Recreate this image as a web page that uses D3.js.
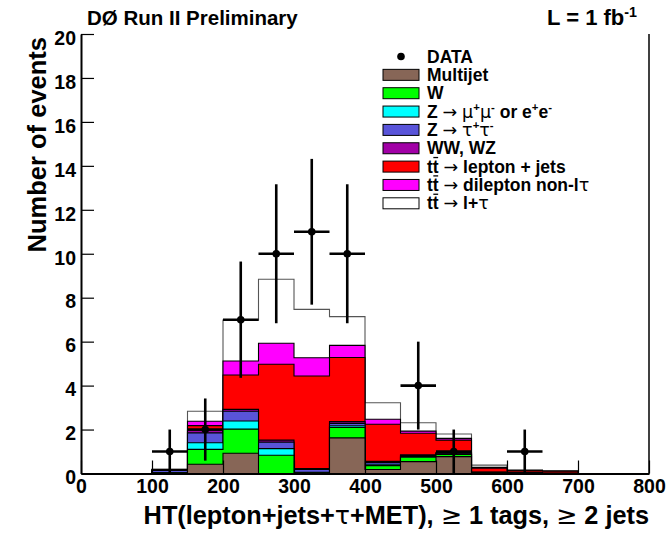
<!DOCTYPE html>
<html>
<head>
<meta charset="utf-8">
<script src="https://cdn.jsdelivr.net/npm/d3@7"></script>
<style>
  html, body { margin: 0; padding: 0; background: #fff; }
  svg { display: block; font-family: "Liberation Sans", Arial, Helvetica, sans-serif; font-weight: bold; }
</style>
</head>
<body>
<script>
// HT histogram, 50 GeV bins from 0 to 800
const binLow = [0, 50, 100, 150, 200, 250, 300, 350, 400, 450, 500, 550, 600, 650, 700, 750];
const binWidth = 50;

// Expected events per bin for each background / signal component
const multijet = [0, 0, 0,    0.42, 0.92, 0,    0,    1.62, 0.18, 0.54, 0.77, 0.02, 0,    0,    0, 0];
const wJets    = [0, 0, 0.03, 0.68, 1.10, 0.83, 0.03, 0.48, 0.18, 0.20, 0.10, 0.01, 0.01, 0,    0, 0];
const zLight   = [0, 0, 0.01, 0.30, 0.37, 0.30, 0.02, 0.07, 0.06, 0.04, 0.02, 0.01, 0,    0,    0, 0];
const zTauTau  = [0, 0, 0.10, 0.45, 0.44, 0.30, 0.13, 0.11, 0.08, 0.04, 0.03, 0.02, 0.02, 0.01, 0, 0];
const diboson  = [0, 0, 0.02, 0.12, 0.09, 0.09, 0.04, 0.08, 0.05, 0.03, 0.03, 0.01, 0.01, 0.01, 0, 0];
const ttLepJets= [0, 0, 0.01, 0.21, 1.56, 3.45, 4.22, 2.92, 1.69, 0.98, 0.57, 0.17, 0.08, 0.08, 0, 0];
const ttDilep  = [0, 0, 0.01, 0.20, 0.64, 0.96, 0.83, 0.55, 0.23, 0.10, 0.08, 0.04, 0.02, 0.01, 0, 0];
const ttLepTau = [0, 0, 0.02, 0.45, 1.86, 2.91, 2.20, 1.31, 0.75, 0.38, 0.20, 0.10, 0.02, 0.01, 0, 0];

// Observed events per bin
const dataCounts = [0, 0, 1, 2, 7, 10, 11, 10, 0, 4, 1, 0, 1, 0, 0, 0];

// Axis ticks
const xMajorTicks = [0, 100, 200, 300, 400, 500, 600, 700, 800];
const yMajorTicks = [0, 2, 4, 6, 8, 10, 12, 14, 16, 18, 20];

// Stack components, bottom to top
const components = [
  { key: "multijet",  values: multijet,  color: "#876657", line: "#000" },
  { key: "wJets",     values: wJets,     color: "#00ff00", line: "#000" },
  { key: "zLight",    values: zLight,    color: "#00ffff", line: "#000" },
  { key: "zTauTau",   values: zTauTau,   color: "#5954d9", line: "#000" },
  { key: "diboson",   values: diboson,   color: "#a100a6", line: "#000" },
  { key: "ttLepJets", values: ttLepJets, color: "#ff0000", line: "#000" },
  { key: "ttDilep",   values: ttDilep,   color: "#ff00ff", line: "#000" },
  { key: "ttLepTau",  values: ttLepTau,  color: "#ffffff", line: "#555" }
];

// Legend labels: [text, style] pieces; b = bold, s = symbol (regular), u = superscript, o = overlined
const legendEntries = [
  { type: "data", parts: [["DATA", "b"]] },
  { key: "multijet",  parts: [["Multijet", "b"]] },
  { key: "wJets",     parts: [["W", "b"]] },
  { key: "zLight",    parts: [["Z ", "b"], ["\u2192", "s"], [" ", "b"], ["\u03bc", "s"], ["+", "u"], ["\u03bc", "s"], ["-", "u"], [" or e", "b"], ["+", "u"], ["e", "b"], ["-", "u"]] },
  { key: "zTauTau",   parts: [["Z ", "b"], ["\u2192", "s"], [" ", "b"], ["\u03c4", "s"], ["+", "u"], ["\u03c4", "s"], ["-", "u"]] },
  { key: "diboson",   parts: [["WW, WZ", "b"]] },
  { key: "ttLepJets", parts: [["t", "b"], ["t", "o"], [" ", "b"], ["\u2192", "s"], [" lepton + jets", "b"]] },
  { key: "ttDilep",   parts: [["t", "b"], ["t", "o"], [" ", "b"], ["\u2192", "s"], [" dilepton non-l", "b"], ["\u03c4", "s"]] },
  { key: "ttLepTau",  parts: [["t", "b"], ["t", "o"], [" ", "b"], ["\u2192", "s"], [" l+", "b"], ["\u03c4", "s"]] }
];

const W = 668, H = 533;
const frame = { left: 81, right: 649, top: 34, bottom: 473.5 };

const svg = d3.select("body").append("svg").attr("width", W).attr("height", H);
svg.append("rect").attr("width", W).attr("height", H).attr("fill", "#fff");

const x = d3.scaleLinear().domain([0, 800]).range([frame.left, frame.right]);
const y = d3.scaleLinear().domain([0, 20]).range([frame.bottom, frame.top]);

// Cumulative stack
const table = binLow.map((lo, i) => {
  const row = { lo };
  components.forEach(c => { row[c.key] = c.values[i]; });
  return row;
});
const stacked = d3.stack().keys(components.map(c => c.key))(table);

// Step outline points for a cumulative histogram
function stepPoints(layer) {
  const pts = [[binLow[0], 0]];
  layer.forEach((d, i) => {
    pts.push([binLow[i], d[1]]);
    pts.push([binLow[i] + binWidth, d[1]]);
  });
  pts.push([binLow[binLow.length - 1] + binWidth, 0]);
  return pts;
}
const area = d3.area().x(p => x(p[0])).y0(y(0)).y1(p => y(p[1]));
const line = d3.line().x(p => x(p[0])).y(p => y(p[1]));

const histG = svg.append("g");
// Draw cumulative histograms from the top component down, each filled from zero
for (let k = stacked.length - 1; k >= 0; k--) {
  const comp = components[k];
  const pts = stepPoints(stacked[k]);
  histG.append("path").attr("d", area(pts)).attr("fill", comp.color).attr("stroke", "none");
  histG.append("path").attr("d", line(pts)).attr("fill", "none")
    .attr("stroke", comp.line).attr("stroke-width", 1.1);
}

// Data points with sqrt(N) errors
const dataG = svg.append("g");
dataCounts.forEach((n, i) => {
  if (n <= 0) return;
  const cx = binLow[i] + binWidth / 2;
  const err = Math.sqrt(n);
  dataG.append("line")
    .attr("x1", x(cx)).attr("x2", x(cx))
    .attr("y1", y(Math.max(0, n - err))).attr("y2", y(n + err))
    .attr("stroke", "#000").attr("stroke-width", 2.6);
  dataG.append("line")
    .attr("x1", x(binLow[i])).attr("x2", x(binLow[i] + binWidth))
    .attr("y1", y(n)).attr("y2", y(n))
    .attr("stroke", "#000").attr("stroke-width", 2.6);
  dataG.append("circle").attr("cx", x(cx)).attr("cy", y(n)).attr("r", 3.8).attr("fill", "#000");
});

// Axes
const xMinor = d3.range(0, 801, 20).filter(v => v % 100 !== 0);
const yMinor = d3.range(0, 20.01, 0.5).filter(v => Math.abs(v % 2) > 1e-6);

const xAxisG = svg.append("g").attr("transform", `translate(0,${frame.bottom})`);
xAxisG.call(d3.axisBottom(x).tickValues(xMinor).tickSize(-7).tickSizeOuter(0).tickFormat(""));
xAxisG.call(d3.axisBottom(x).tickValues(xMajorTicks).tickSize(-13).tickSizeOuter(0).tickPadding(6).tickFormat(d3.format("d")));
const yAxisG = svg.append("g").attr("transform", `translate(${frame.left},0)`);
yAxisG.call(d3.axisLeft(y).tickValues(yMinor).tickSize(-7).tickSizeOuter(0).tickFormat(""));
yAxisG.call(d3.axisLeft(y).tickValues(yMajorTicks).tickSize(-13).tickSizeOuter(0).tickPadding(5).tickFormat(d3.format("d")));

[xAxisG, yAxisG].forEach(g => {
  g.selectAll(".domain").attr("stroke", "#000").attr("stroke-width", 2);
  g.selectAll(".tick line").attr("stroke", "#000").attr("stroke-width", 1.2);
  g.selectAll("text").attr("fill", "#000").attr("font-size", 19.5).attr("font-weight", "bold")
    .attr("font-family", "'Liberation Sans', Arial, sans-serif");
});
yAxisG.selectAll("text").attr("y", 4);

// Right frame edge
svg.append("line").attr("x1", frame.right).attr("x2", frame.right)
  .attr("y1", frame.top).attr("y2", frame.bottom).attr("stroke", "#000").attr("stroke-width", 1.5);

// Rich text helper; overlined characters get a bar drawn over their glyph box
function writeParts(textSel, parts, size) {
  let shift = 0;
  let charIndex = 0;
  const bars = [];
  parts.forEach(([str, style]) => {
    const t = textSel.append("tspan").text(str);
    let dy = 0;
    if (style === "u") {
      t.attr("font-size", size * 0.65).attr("font-weight", "bold");
      dy = -size * 0.38;
    } else {
      t.attr("font-size", size);
      if (style === "s") t.attr("font-weight", "normal").attr("font-family", "'DejaVu Sans', 'Liberation Sans', sans-serif");
      if (style === "o") bars.push(charIndex);
    }
    const delta = dy - shift;
    if (delta !== 0) t.attr("dy", delta);
    shift = dy;
    charIndex += str.length;
  });
  const node = textSel.node();
  const parent = d3.select(node.parentNode);
  bars.forEach(ci => {
    const box = node.getExtentOfChar(ci);
    const baseY = +textSel.attr("y");
    const barY = baseY - size * 0.86;
    parent.append("line")
      .attr("x1", box.x + 0.5).attr("x2", box.x + box.width - 0.5)
      .attr("y1", barY).attr("y2", barY)
      .attr("stroke", "#000").attr("stroke-width", 1.3);
  });
}

// Titles
svg.append("text").attr("x", 87).attr("y", 25).attr("font-size", 20.5).text("D\u00d8 Run II Preliminary");
const lumi = svg.append("text").attr("x", 637).attr("y", 25).attr("text-anchor", "end");
writeParts(lumi, [["L = 1 fb", "b"], ["-1", "u"]], 22);

const xTitle = svg.append("text").attr("x", 649).attr("y", 524).attr("text-anchor", "end");
writeParts(xTitle, [["HT(lepton+jets+", "b"], ["\u03c4", "s"], ["+MET), ", "b"], ["\u2265", "s"], [" 1 tags, ", "b"], ["\u2265", "s"], [" 2 jets", "b"]], 25.3);

svg.append("text").attr("transform", "translate(46,37) rotate(-90)")
  .attr("text-anchor", "end").attr("font-size", 25.5).text("Number of events");

// Legend
const legendG = svg.append("g");
const legX = 383, legBoxW = 36, legBoxH = 11, legTextX = 427, legY0 = 56.5, legStep = 18.35;
const colorOf = Object.fromEntries(components.map(c => [c.key, c]));
legendEntries.forEach((e, i) => {
  const cy = legY0 + i * legStep;
  if (e.type === "data") {
    legendG.append("circle").attr("cx", legX + legBoxW / 2).attr("cy", cy).attr("r", 3.8).attr("fill", "#000");
  } else {
    legendG.append("rect").attr("x", legX).attr("y", cy - legBoxH / 2)
      .attr("width", legBoxW).attr("height", legBoxH)
      .attr("fill", colorOf[e.key].color).attr("stroke", "#000").attr("stroke-width", 1);
  }
  const t = legendG.append("text").attr("x", legTextX).attr("y", cy + 6);
  writeParts(t, e.parts, 17.5);
});
</script>
</body>
</html>
